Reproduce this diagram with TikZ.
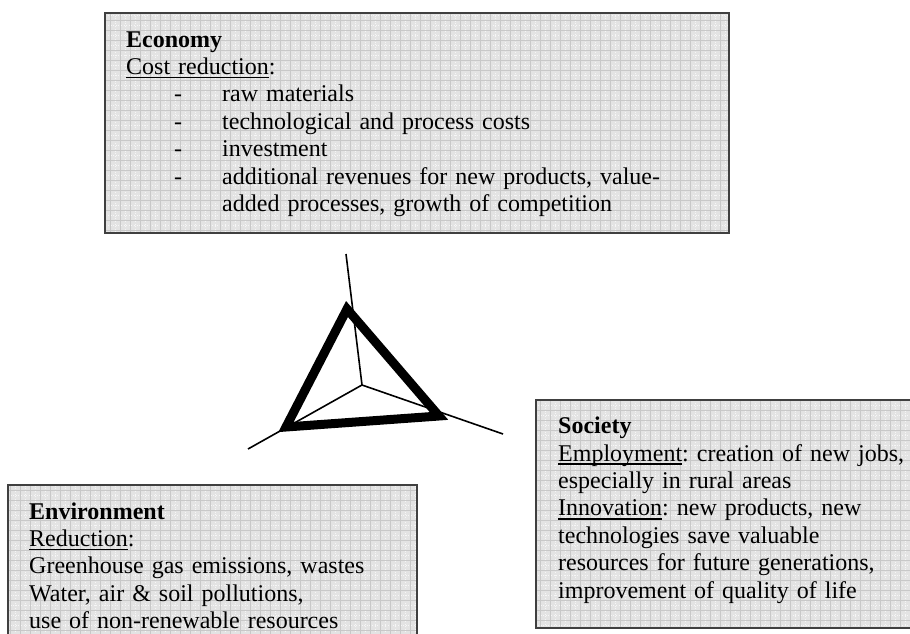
\documentclass[tikz,border=0pt]{standalone}
\usepackage{fontspec}
\setmainfont{Liberation Serif}
\usepackage{xcolor}
\frenchspacing

\definecolor{feldgrau}{HTML}{E3E3E3}
\definecolor{rastergrau}{HTML}{C8C8C8}
\definecolor{rahmengrau}{HTML}{404040}

% Unterstreichung wie im Textverarbeitungsprogramm (kreuzt die Unterlaengen)
\newcommand{\unter}[1]{\leavevmode\setbox0\hbox{#1}\rlap{\rule[-3.8pt]{\wd0}{1.7pt}}\box0}

\begin{document}
\begin{tikzpicture}[
      x=1pt, y=-1pt,
      feld/.style={fill=feldgrau},
      raster/.style={draw=rastergrau, line width=0.7pt},
      punkte/.style={draw=white, line width=0.6pt, dotted, opacity=0.7},
      rahmen/.style={draw=rahmengrau, line width=1.8pt},
      dreieck/.style={line width=9pt, line join=miter},
      speiche/.style={line width=1.6pt},
      inhalt/.style={anchor=north west, inner sep=0pt, align=left,
                     text width=#1, font=\fontsize{24}{27.4}\selectfont}
    ]
    \def\S{19.2}   % Strut-Hoehe: Abstand Oberkante -> erste Grundlinie
    \useasboundingbox (0,0) rectangle (910,634);

    % ---------- Wirtschaft (oben) ----------
    \begin{scope}
      \clip (105,13) rectangle (729,233);
      \fill[feld] (105,13) rectangle (729,233);
      \draw[punkte, shift={(5,5)}] (90,0) grid[step=10pt] (730,240);
      \draw[raster] (100,10) grid[step=10pt] (730,240);
    \end{scope}
    \draw[rahmen] (105,13) rectangle (729,233);
    \node[inhalt=580pt] (eco) at (126,47-\S) {\strut\textbf{Economy}\\
      \unter{Cost reduction}:\\
      \hspace*{48pt}\makebox[48pt][l]{-}raw materials\\
      \hspace*{48pt}\makebox[48pt][l]{-}technological and process costs\\
      \hspace*{48pt}\makebox[48pt][l]{-}investment\\
      \hspace*{48pt}\makebox[48pt][l]{-}additional revenues for new products, value-\\
      \hspace*{96pt}added processes, growth of competition};

    % ---------- Dreieck mit Speichen ----------
    \coordinate (mitte) at (362,385);
    \coordinate (ecke-o) at (347,309);
    \coordinate (ecke-r) at (439,416);
    \coordinate (ecke-l) at (286,427);
    \coordinate (ende-o) at (346,254);
    \coordinate (ende-r) at (503,434);
    \coordinate (ende-l) at (248,449);
    \draw[speiche] (mitte) -- (ende-o);
    \draw[speiche] (mitte) -- (ende-r);
    \draw[speiche] (mitte) -- (ende-l);
    \draw[dreieck] (ecke-o) -- (ecke-r) -- (ecke-l) -- cycle;

    % ---------- Umwelt (unten links) ----------
    \begin{scope}
      \clip (8,485) rectangle (417,640);
      \fill[feld] (8,485) rectangle (417,640);
      \draw[punkte, shift={(5,5)}] (-10,470) grid[step=10pt] (420,640);
      \draw[raster] (0,480) grid[step=10pt] (420,640);
    \end{scope}
    \draw[rahmen] (8,640) -- (8,485) -- (417,485) -- (417,640);
    \node[inhalt=380pt] (env) at (29,519-\S) {\strut\textbf{Environment}\\
      \unter{Reduction}:\\
      Greenhouse gas emissions, wastes\\
      Water, air \& soil pollutions,\\
      use of non-renewable resources};

    % ---------- Gesellschaft (rechts) ----------
    \begin{scope}
      \clip (536,400) rectangle (915,628);
      \fill[feld] (536,400) rectangle (915,628);
      \draw[punkte, shift={(5,5)}] (520,390) grid[step=10pt] (920,630);
      \draw[raster] (530,400) grid[step=10pt] (920,630);
    \end{scope}
    \draw[rahmen] (915,400) -- (536,400) -- (536,628) -- (915,628);
    \node[inhalt=360pt] (soc) at (558,433.5-\S) {\strut\textbf{Society}\\
      \unter{Employment}: creation of new jobs,\\
      especially in rural areas\\
      \unter{Innovation}: new products, new\\
      technologies save valuable\\
      resources for future generations,\\
      improvement of quality of life};
  \end{tikzpicture}
\end{document}
